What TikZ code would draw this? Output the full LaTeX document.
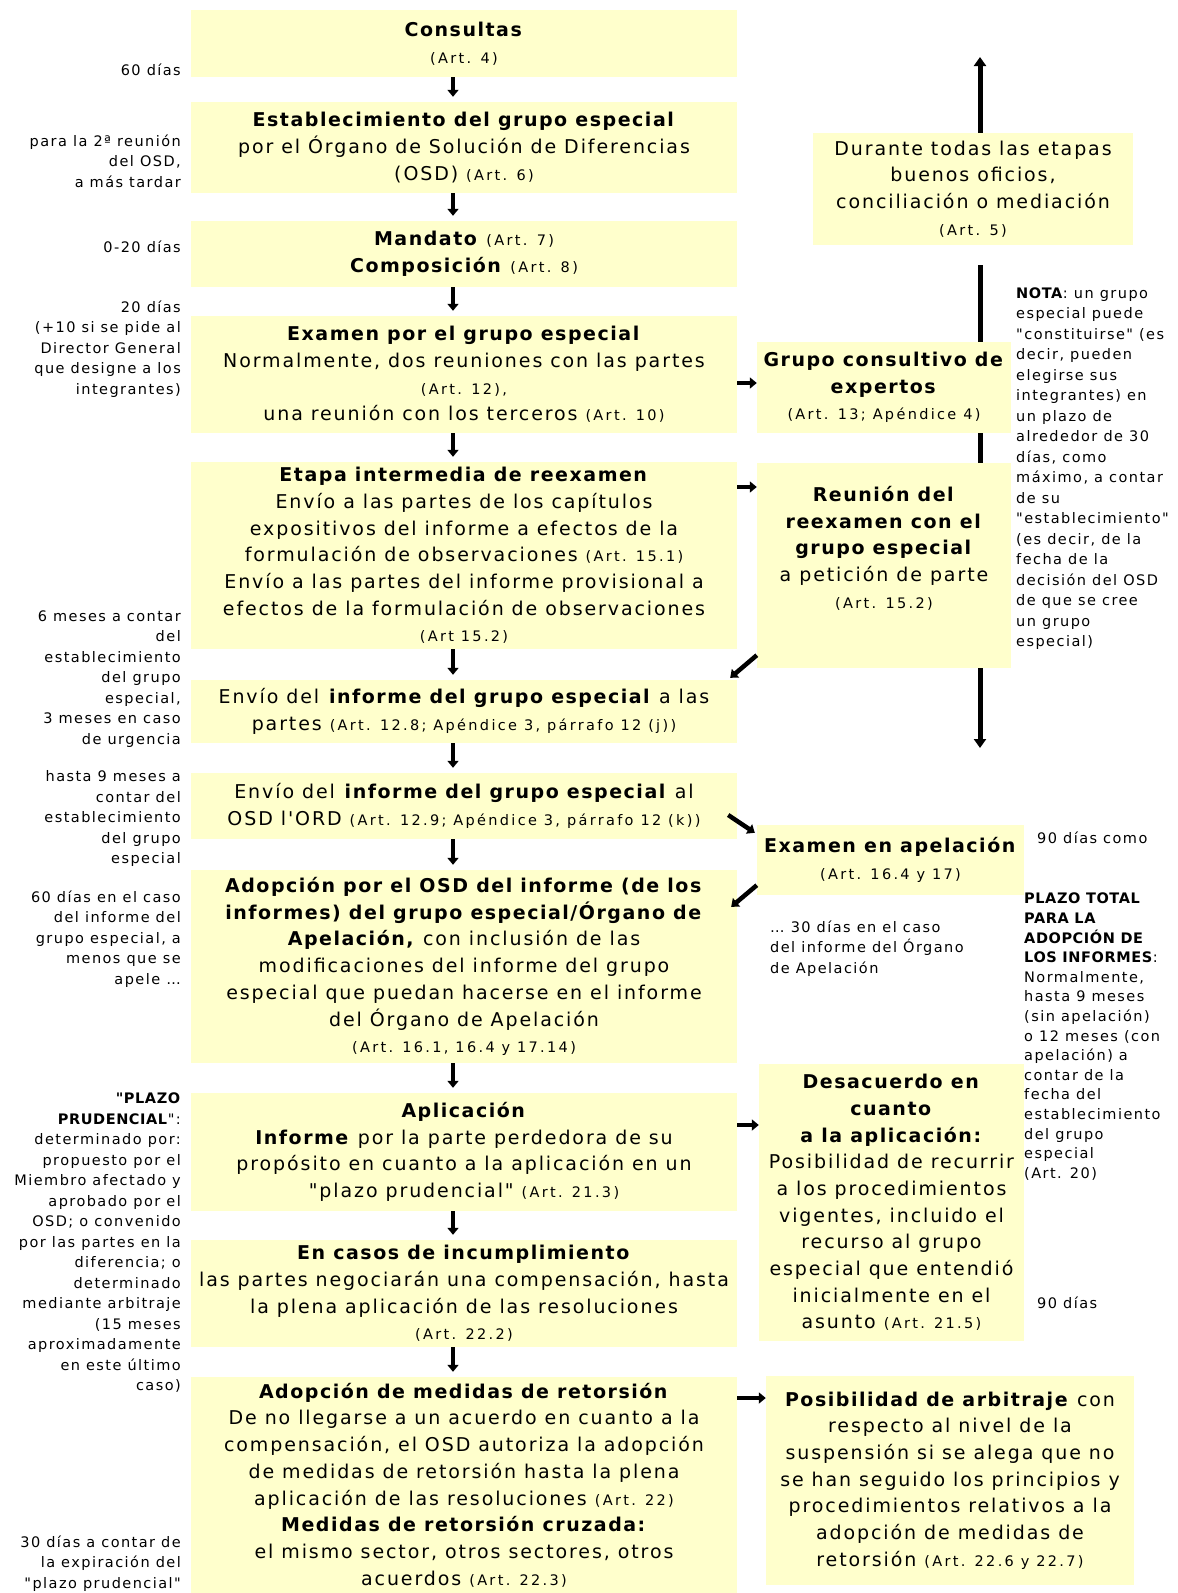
\documentclass[tikz,border=0pt]{standalone}
\usepackage{fontspec}
\newfontfamily\cajafont{DejaVu Sans}[UprightFeatures={LetterSpace=10},BoldFeatures={LetterSpace=8}]
\newfontfamily\artfont{DejaVu Sans}[LetterSpace=16]
\newfontfamily\notafont{DejaVu Sans}[UprightFeatures={LetterSpace=10},BoldFeatures={LetterSpace=4}]
\usetikzlibrary{arrows.meta}
\definecolor{amarillo}{RGB}{255,255,204}
\newcommand{\art}[1]{{\artfont\fontsize{14.5}{26.7}\selectfont #1}}

\tikzset{
	caja/.style={fill=amarillo, inner sep=0pt, align=center, font=\cajafont\fontsize{19}{26.7}\selectfont},
	flecha/.style={line width=4.5pt, -{Triangle[width=11pt,length=7pt]}},
	linea/.style={line width=5pt},
	plazo/.style={inner sep=0pt, font=\notafont\fontsize{14.5}{20.5}\selectfont},
}

\begin{document}
\begin{tikzpicture}[x=1pt,y=-1pt]
	\fill[white] (0,0) rectangle (1178,1593);
	% Etapas del procedimiento
		\node[caja, minimum width=546pt, minimum height=67pt] (cons) at (464,43.5) {\textbf{Consultas}\\\art{(Art. 4)}};
		\node[caja, minimum width=546pt, minimum height=91pt] (estab) at (464,147.5) {\textbf{Establecimiento del grupo especial}\\por el Órgano de Solución de Diferencias\\(OSD) \art{(Art. 6)}};
		\node[caja, minimum width=546pt, minimum height=66pt] (mand) at (464,254) {\textbf{Mandato} \art{(Art. 7)}\\\textbf{Composición} \art{(Art. 8)}};
		\node[caja, minimum width=546pt, minimum height=117pt] (exam) at (464,374.5) {\textbf{Examen por el grupo especial}\\Normalmente, dos reuniones con las partes\\\art{(Art. 12),}\\una reunión con los terceros \art{(Art. 10)}};
		\node[caja, minimum width=546pt, minimum height=187pt] (etapa) at (464,555.5) {\textbf{Etapa intermedia de reexamen}\\Envío a las partes de los capítulos\\expositivos del informe a efectos de la\\formulación de observaciones \art{(Art. 15.1)}\\Envío a las partes del informe provisional a\\efectos de la formulación de observaciones\\\art{(Art 15.2)}};
		\node[caja, minimum width=546pt, minimum height=63pt] (envp) at (464,711.5) {Envío del \textbf{informe del grupo especial} a las\\partes \art{(Art. 12.8; Apéndice 3, párrafo 12 (j))}};
		\node[caja, minimum width=546pt, minimum height=66pt] (envo) at (464,806) {Envío del \textbf{informe del grupo especial} al\\OSD l'ORD \art{(Art. 12.9; Apéndice 3, párrafo 12 (k))}};
		\node[caja, minimum width=546pt, minimum height=193pt] (adop) at (464,966.5) {\textbf{Adopción por el OSD del informe (de los}\\\textbf{informes) del grupo especial/Órgano de}\\\textbf{Apelación,} con inclusión de las\\modificaciones del informe del grupo\\especial que puedan hacerse en el informe\\del Órgano de Apelación\\\art{(Art. 16.1, 16.4 y 17.14)}};
		\node[caja, minimum width=546pt, minimum height=118pt] (aplic) at (464,1152) {\textbf{Aplicación}\\\textbf{Informe} por la parte perdedora de su\\propósito en cuanto a la aplicación en un\\"plazo prudencial" \art{(Art. 21.3)}};
		\node[caja, minimum width=546pt, minimum height=107pt] (incum) at (464,1293.5) {\textbf{En casos de incumplimiento}\\las partes negociarán una compensación, hasta\\la plena aplicación de las resoluciones\\\art{(Art. 22.2)}};
		\node[caja, minimum width=546pt, minimum height=216pt] (retor) at (464,1485) {\textbf{Adopción de medidas de retorsión}\\De no llegarse a un acuerdo en cuanto a la\\compensación, el OSD autoriza la adopción\\de medidas de retorsión hasta la plena\\aplicación de las resoluciones \art{(Art. 22)}\\\textbf{Medidas de retorsión cruzada:}\\el mismo sector, otros sectores, otros\\acuerdos \art{(Art. 22.3)}};

	% Buenos oficios y su flecha doble
		\node[caja, minimum width=320pt, minimum height=112pt] (dur) at (973,189) {Durante todas las etapas\\buenos oficios,\\conciliación o mediación\\\art{(Art. 5)}};
		\coordinate (arriba) at (980,57);
		\coordinate (abajo) at (980,748);
		\draw[linea, -{Triangle[width=12pt,length=9pt]}] (dur.north -| arriba) -- (arriba);
		\draw[linea, -{Triangle[width=12pt,length=9pt]}] (dur.south -| abajo) ++(0,20) -- (abajo);

	% Cajas de la derecha
		\node[caja, minimum width=254pt, minimum height=91pt] (gcons) at (884,387.5) {\textbf{Grupo consultivo de}\\\textbf{expertos}\\\art{(Art. 13; Apéndice 4)}};
		\node[caja, minimum width=254pt, minimum height=205pt] (reun) at (884,565.5) {\textbf{Reunión del}\\\textbf{reexamen con el}\\\textbf{grupo especial}\\a petición de parte\\\art{(Art. 15.2)}\\[10pt]\mbox{}};
		\node[caja, minimum width=267pt, minimum height=70pt] (apel) at (890.5,860) {\textbf{Examen en apelación}\\\art{(Art. 16.4 y 17)}};
		\node[caja, minimum width=265pt, minimum height=277pt] (desac) at (891.5,1202.5) {\textbf{Desacuerdo en}\\\textbf{cuanto}\\\textbf{a la aplicación:}\\Posibilidad de recurrir\\a los procedimientos\\vigentes, incluido el\\recurso al grupo\\especial que entendió\\inicialmente en el\\asunto \art{(Art. 21.5)}};
		\node[caja, minimum width=368pt, minimum height=209pt] (arbit) at (950,1480.5) {\textbf{Posibilidad de arbitraje} con\\respecto al nivel de la\\suspensión si se alega que no\\se han seguido los principios y\\procedimientos relativos a la\\adopción de medidas de\\retorsión \art{(Art. 22.6 y 22.7)}};

	% Flechas hacia abajo
		\foreach \de/\a in {cons/estab, estab/mand, mand/exam, exam/etapa, etapa/envp, envp/envo, envo/adop, adop/aplic, aplic/incum, incum/retor}
			\draw[flecha, shorten >=5pt] ([xshift=-11pt]\de.south) -- ([xshift=-11pt]\a.north);

	% Flechas hacia la derecha
		\foreach \de/\a/\dy in {exam/gcons/-8.5, etapa/reun/68.5, aplic/desac/27, retor/arbit/87}{
			\path ([yshift=\dy pt]\de.east) coordinate (p);
			\draw[flecha] (p) -- (p -| \a.west);
		}

	% Flechas oblicuas
		\draw[flecha] ([yshift=13pt]reun.south west) -- ([xshift=-7pt,yshift=2pt]envp.north east);
		\draw[flecha] ([xshift=-9pt,yshift=-9pt]envo.east) -- ([xshift=-2pt,yshift=-8pt]apel.north west);
		\draw[flecha] ([yshift=10pt]apel.south west) -- ([xshift=-6pt,yshift=-37pt]adop.north east);

	% Plazos a la izquierda
		\node[plazo, anchor=east] (p1) at (181,70) {60 días};
		\node[plazo, align=right, anchor=north east] (p2) at (181,134.5) {para la 2ª reunión\\del OSD,\\a más tardar};
		\node[plazo, anchor=east] (p3) at (181,247) {0-20 días};
		\node[plazo, align=right, anchor=north east] (p4) at (181,300.5) {20 días\\(+10 si se pide al\\Director General\\que designe a los\\integrantes)};
		\node[plazo, align=right, anchor=north east] (p5) at (181,610.5) {6 meses a contar\\del\\establecimiento\\del grupo\\especial,\\3 meses en caso\\de urgencia};
		\node[plazo, align=right, anchor=north east] (p6) at (181,770.5) {hasta 9 meses a\\contar del\\establecimiento\\del grupo\\especial};
		\node[plazo, align=right, anchor=north east] (p7) at (181,890.5) {60 días en el caso\\del informe del\\grupo especial, a\\menos que se\\apele …};
		\node[plazo, align=right, anchor=north east] (p8) at (181,1093) {\textbf{"PLAZO}\\\textbf{PRUDENCIAL}":\\determinado por:\\propuesto por el\\Miembro afectado y\\aprobado por el\\OSD; o convenido\\por las partes en la\\diferencia; o\\determinado\\mediante arbitraje\\(15 meses\\aproximadamente\\en este último\\caso)};
		\node[plazo, align=right, anchor=north east] (p9) at (181,1535.5) {30 días a contar de\\la expiración del\\"plazo prudencial"};

	% Notas a la derecha
		\node[plazo, align=left, anchor=north west] (nota) at (1016,287.5) {\textbf{NOTA}: un grupo\\especial puede\\"constituirse" (es\\decir, pueden\\elegirse sus\\integrantes) en\\un plazo de\\alrededor de 30\\días, como\\máximo, a contar\\de su\\"establecimiento"\\(es decir, de la\\fecha de la\\decisión del OSD\\de que se cree\\un grupo\\especial)};
		\node[plazo, anchor=west] (d90a) at (1037,838) {90 días como};
		\node[plazo, align=left, anchor=north west] (d30) at (770,920.5) {… 30 días en el caso\\del informe del Órgano\\de Apelación};
		\node[plazo, align=left, anchor=north west, font=\notafont\fontsize{14.5}{19.6}\selectfont] (total) at (1024,893) {\textbf{PLAZO TOTAL}\\\textbf{PARA LA}\\\textbf{ADOPCIÓN DE}\\\textbf{LOS INFORMES}:\\Normalmente,\\hasta 9 meses\\(sin apelación)\\o 12 meses (con\\apelación) a\\contar de la\\fecha del\\establecimiento\\del grupo\\especial\\(Art. 20)};
		\node[plazo, anchor=west] (d90b) at (1037,1303) {90 días};
\end{tikzpicture}
\end{document}
